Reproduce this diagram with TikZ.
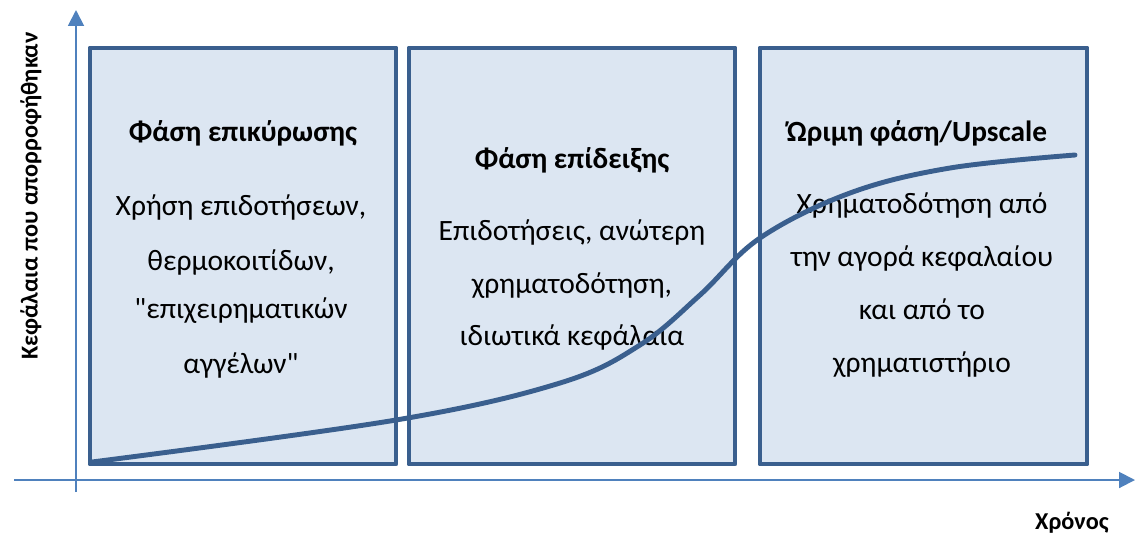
\documentclass[tikz,border=0pt]{standalone}
\usepackage{fontspec}
\setmainfont{Carlito}[Ligatures=TeXOff]
\usetikzlibrary{arrows.meta}
\definecolor{axisblue}{HTML}{4F81BD}
\definecolor{boxline}{HTML}{3A5F8E}
\definecolor{boxfill}{HTML}{DCE6F2}
\tikzset{
	phase/.style={draw=boxline,fill=boxfill,line width=2.8pt,line join=round},
	axisline/.style={draw=axisblue,line width=1.1pt},
	title/.style={font=\fontsize{16.7}{20}\selectfont\bfseries,anchor=base},
	body/.style={font=\fontsize{16.8}{20}\selectfont,anchor=base},
	axislabel/.style={font=\fontsize{13.8}{16}\selectfont\bfseries}
}
\begin{document}
\begin{tikzpicture}[x=0.02cm,y=-0.02cm]
	\useasboundingbox (0,0) rectangle (1135,535);
	
	% axes
	\coordinate (ybot) at (76,492);
	\coordinate (ytop) at (76,10);
	\coordinate (xleft) at (14,480);
	\coordinate (xright) at (1135,480);
	\draw[axisline,-{Triangle[length=9pt,width=9pt]}] (ybot)--(ytop);
	\draw[axisline,-{Triangle[length=9pt,width=9pt]}] (xleft)--(xright);
	
	% phases
	\draw[phase] (90,48) rectangle (396,464);
	\draw[phase] (409,48) rectangle (735,464);
	\draw[phase] (760,48) rectangle (1087,464);
	
	\node[title] (t1) at (243,141) {Φάση επικύρωσης};
	\node[body] (b11) at (241,215) {Χρήση επιδοτήσεων,};
	\node[body] (b12) at (241,270) {θερμοκοιτίδων,};
	\node[body] (b13) at (241,318) {"επιχειρηματικών};
	\node[body] (b14) at (241,373) {αγγέλων"};
	
	\node[title] (t2) at (572,168) {Φάση επίδειξης};
	\node[body] (b21) at (572,240) {Επιδοτήσεις, ανώτερη};
	\node[body] (b22) at (572,293) {χρηματοδότηση,};
	\node[body] (b23) at (572,345) {ιδιωτικά κεφάλαια};
	
	\node[title] (t3) at (917,141) {Ώριμη φάση/Upscale};
	\node[body] (b31) at (922,213) {Χρηματοδότηση από};
	\node[body] (b32) at (922,266) {την αγορά κεφαλαίου};
	\node[body] (b33) at (922,319) {και από το};
	\node[body] (b34) at (922,372) {χρηματιστήριο};
	
	% growth curve
	\draw[boxline,line width=2.8pt,line cap=round] plot[smooth,tension=0.6] coordinates
	{(92,462) (396,420) (560,383) (640,345) (700,295) (760,238) (850,193) (950,168) (1075,155)};
	
	\node[axislabel,rotate=90] (ylab) at (31,196) {Κεφάλαια που απορροφήθηκαν};
	\node[axislabel] (xlab) at (1072,523) {Χρόνος};
	
\end{tikzpicture}
\end{document}
